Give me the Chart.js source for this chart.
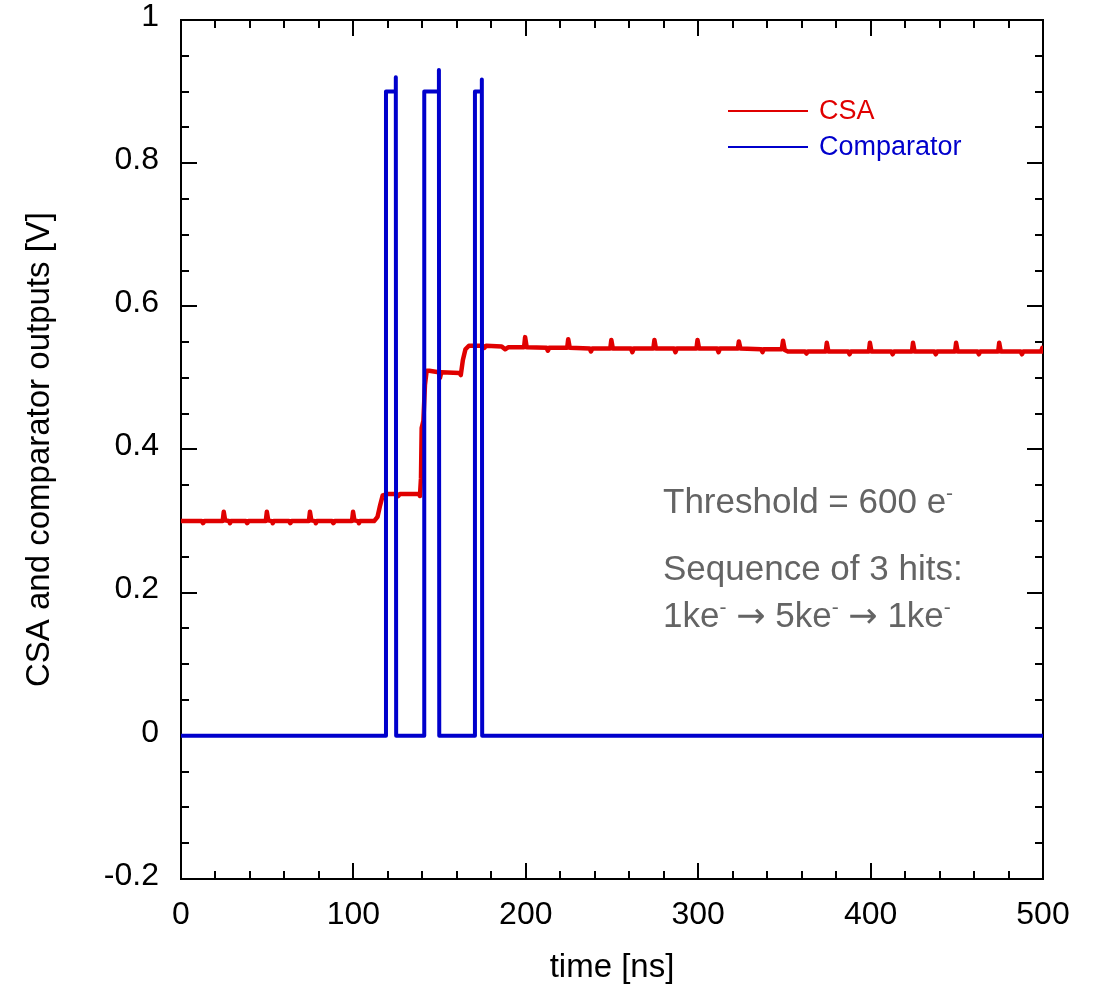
<!DOCTYPE html>
<html>
<head>
<meta charset="utf-8">
<script src="https://cdn.jsdelivr.net/npm/chart.js@4.4.1/dist/chart.umd.min.js"></script>
<style>
  html, body { margin: 0; padding: 0; background: #fff; }
  #c { display: block; }
</style>
</head>
<body>
<canvas id="c" width="1094" height="990"></canvas>
<script>
// axis ticks
const xTicks = [0, 100, 200, 300, 400, 500];
const yTicks = [-0.2, 0, 0.2, 0.4, 0.6, 0.8, 1];

// CSA output [time ns, volts]
const csaPoints = [
  [0, 0.300], [12, 0.300], [12.8, 0.297], [13.6, 0.300],
  [24.2, 0.300], [24.8, 0.313], [25.6, 0.301], [27.8, 0.300], [28.4, 0.297], [29, 0.300],
  [37.6, 0.300], [38.4, 0.297], [39.2, 0.300],
  [49.2, 0.300], [49.8, 0.313], [50.6, 0.301], [52.6, 0.300], [53.2, 0.297], [53.8, 0.300],
  [62.6, 0.300], [63.4, 0.297], [64.2, 0.300],
  [74.2, 0.300], [74.8, 0.313], [75.6, 0.301], [77.6, 0.300], [78.2, 0.297], [78.8, 0.300],
  [87.6, 0.300], [88.4, 0.297], [89.2, 0.300],
  [99.2, 0.300], [99.8, 0.313], [100.6, 0.301], [102.6, 0.300], [103.2, 0.297], [103.8, 0.300],
  [112, 0.300], [114, 0.306], [115.5, 0.322], [117, 0.336], [120, 0.338],
  [125, 0.338], [126, 0.335], [127, 0.338], [138, 0.338], [138.6, 0.335],
  [139.2, 0.36], [139.6, 0.43], [140.6, 0.44], [141.5, 0.49], [142.5, 0.51], [144, 0.510],
  [149.5, 0.508], [150.2, 0.500], [151, 0.508], [161.5, 0.507], [162.3, 0.504],
  [163.5, 0.525], [165, 0.540], [167, 0.545], [175, 0.545], [176, 0.542], [177, 0.545],
  [186, 0.544], [188, 0.540], [190, 0.543],
  [199, 0.543], [199.6, 0.557], [200.5, 0.543], [212, 0.542], [212.8, 0.538], [213.6, 0.542],
  [224, 0.542], [224.6, 0.554], [225.5, 0.542], [237, 0.541], [237.8, 0.537], [238.6, 0.541],
  [249, 0.541], [249.6, 0.553], [250.5, 0.541], [261, 0.541], [261.8, 0.536], [262.6, 0.541],
  [274, 0.541], [274.6, 0.553], [275.5, 0.541], [286, 0.541], [286.8, 0.536], [287.6, 0.541],
  [299, 0.541], [299.6, 0.553], [300.5, 0.541], [311, 0.541], [311.8, 0.536], [312.6, 0.541],
  [323, 0.541], [323.6, 0.551], [324.5, 0.541], [336.5, 0.540], [337.3, 0.536], [338, 0.540],
  [348.5, 0.540], [349.2, 0.552], [350.2, 0.539], [352, 0.537],
  [362, 0.537], [362.8, 0.534], [363.6, 0.537],
  [374, 0.537], [374.6, 0.549], [375.5, 0.537], [387, 0.537], [387.8, 0.533], [388.6, 0.537],
  [399, 0.537], [399.6, 0.549], [400.5, 0.537], [412, 0.537], [412.8, 0.533], [413.6, 0.537],
  [424, 0.537], [424.6, 0.549], [425.5, 0.537], [437, 0.537], [437.8, 0.533], [438.6, 0.537],
  [449, 0.537], [449.6, 0.549], [450.5, 0.537], [462, 0.537], [462.8, 0.533], [463.6, 0.537],
  [474, 0.537], [474.6, 0.549], [475.5, 0.537], [487, 0.537], [487.8, 0.533], [488.6, 0.537],
  [499, 0.537], [499.6, 0.542], [500, 0.537]
];

// comparator output [time ns, volts]
const compPoints = [
  [0, 0], [118.9, 0], [118.9, 0.9], [124.5, 0.9], [124.6, 0.92], [124.8, 0],
  [141.1, 0], [141.1, 0.9], [149.5, 0.9], [149.6, 0.93], [149.8, 0],
  [170.5, 0], [170.5, 0.9], [174.4, 0.9], [174.5, 0.917], [174.7, 0],
  [500, 0]
];

const seriesNames = ["CSA", "Comparator"];
const seriesColors = ["#e00000", "#0000cc"];

const noteLines = [
  [{ t: "Threshold = 600 e" }, { t: "-", sup: true }],
  [{ t: "Sequence of 3 hits:" }],
  [{ t: "1ke" }, { t: "-", sup: true }, { t: " " }, { t: "\u2192", arrow: true }, { t: " 5ke" }, { t: "-", sup: true },
   { t: " " }, { t: "\u2192", arrow: true }, { t: " 1ke" }, { t: "-", sup: true }]
];

const FONT = '"Liberation Sans", Arial, sans-serif';

function drawRich(ctx, parts, x, y, size) {
  parts.forEach(p => {
    const s = p.sup ? size * 0.6 : size;
    ctx.font = s + "px " + (p.arrow ? '"DejaVu Sans", sans-serif' : FONT);
    ctx.fillText(p.t, x, p.sup ? y - size * 0.36 : y);
    x += ctx.measureText(p.t).width;
  });
}

const framePlugin = {
  id: "frame",
  beforeDatasetsDraw(chart) {
    const { ctx, chartArea: a, scales: { x, y } } = chart;
    ctx.save();
    ctx.strokeStyle = "#000";
    ctx.lineWidth = 2;
    ctx.strokeRect(a.left, a.top, a.right - a.left, a.bottom - a.top);
    ctx.beginPath();
    for (let v = 0; v <= 500; v += 20) {
      const px = Math.round(x.getPixelForValue(v));
      const len = v % 100 === 0 ? 16 : 8;
      ctx.moveTo(px, a.bottom); ctx.lineTo(px, a.bottom - len);
      ctx.moveTo(px, a.top); ctx.lineTo(px, a.top + len);
    }
    for (let i = -4; i <= 20; i++) {
      const py = Math.round(y.getPixelForValue(i * 0.05));
      const len = i % 4 === 0 ? 16 : 8;
      ctx.moveTo(a.left, py); ctx.lineTo(a.left + len, py);
      ctx.moveTo(a.right, py); ctx.lineTo(a.right - len, py);
    }
    ctx.stroke();
    ctx.restore();
  },
  afterDraw(chart) {
    const ctx = chart.ctx;
    ctx.save();
    // legend
    const legY = [111, 147];
    chart.data.datasets.forEach((ds, i) => {
      ctx.strokeStyle = ds.borderColor;
      ctx.lineWidth = 2;
      ctx.beginPath();
      ctx.moveTo(728, legY[i]); ctx.lineTo(808, legY[i]);
      ctx.stroke();
      ctx.fillStyle = ds.borderColor;
      ctx.font = "27px " + FONT;
      ctx.textBaseline = "middle";
      ctx.fillText(ds.label, 819, legY[i] + 1);
    });
    // note
    ctx.fillStyle = "#646464";
    ctx.textBaseline = "alphabetic";
    const baselines = [513, 580, 627];
    noteLines.forEach((parts, i) => drawRich(ctx, parts, 663, baselines[i], 35));
    ctx.restore();
  }
};

new Chart(document.getElementById("c"), {
  type: "scatter",
  data: {
    datasets: [
      {
        label: seriesNames[0],
        data: csaPoints.map(p => ({ x: p[0], y: p[1] })),
        showLine: true,
        borderColor: seriesColors[0],
        borderWidth: 4.5,
        pointRadius: 0,
        borderJoinStyle: "round",
        borderCapStyle: "round",
        order: 1
      },
      {
        label: seriesNames[1],
        data: compPoints.map(p => ({ x: p[0], y: p[1] })),
        showLine: true,
        borderColor: seriesColors[1],
        borderWidth: 4,
        pointRadius: 0,
        borderJoinStyle: "round",
        order: 0
      }
    ]
  },
  options: {
    responsive: false,
    animation: false,
    devicePixelRatio: 1,
    layout: { padding: { top: 0, right: 51, left: 0, bottom: 0 } },
    plugins: { legend: { display: false }, tooltip: { enabled: false } },
    scales: {
      x: {
        type: "linear",
        min: 0,
        max: 500,
        afterBuildTicks: s => { s.ticks = xTicks.map(v => ({ value: v })); },
        afterFit: s => { s.height = 111; },
        grid: { display: false, drawTicks: false },
        border: { display: false },
        ticks: { color: "#000", padding: 17, font: { family: FONT, size: 32 } },
        title: {
          display: true,
          text: "time [ns]",
          color: "#000",
          padding: { top: 0, bottom: 2 },
          font: { family: FONT, size: 33 }
        }
      },
      y: {
        type: "linear",
        min: -0.2,
        max: 1,
        afterBuildTicks: s => { s.ticks = yTicks.map(v => ({ value: v })); },
        afterFit: s => { s.width = 181; s.paddingTop = 20; s.paddingBottom = 0; },
        grid: { display: false, drawTicks: false },
        border: { display: false },
        ticks: {
          color: "#000",
          padding: 22,
          labelOffset: -3,
          font: { family: FONT, size: 32 },
          callback: v => String(Math.round(v * 10) / 10)
        },
        title: {
          display: true,
          text: "CSA and comparator outputs [V]",
          color: "#000",
          padding: { top: 20, bottom: 0 },
          font: { family: FONT, size: 33 }
        }
      }
    }
  },
  plugins: [framePlugin]
});
</script>
</body>
</html>
